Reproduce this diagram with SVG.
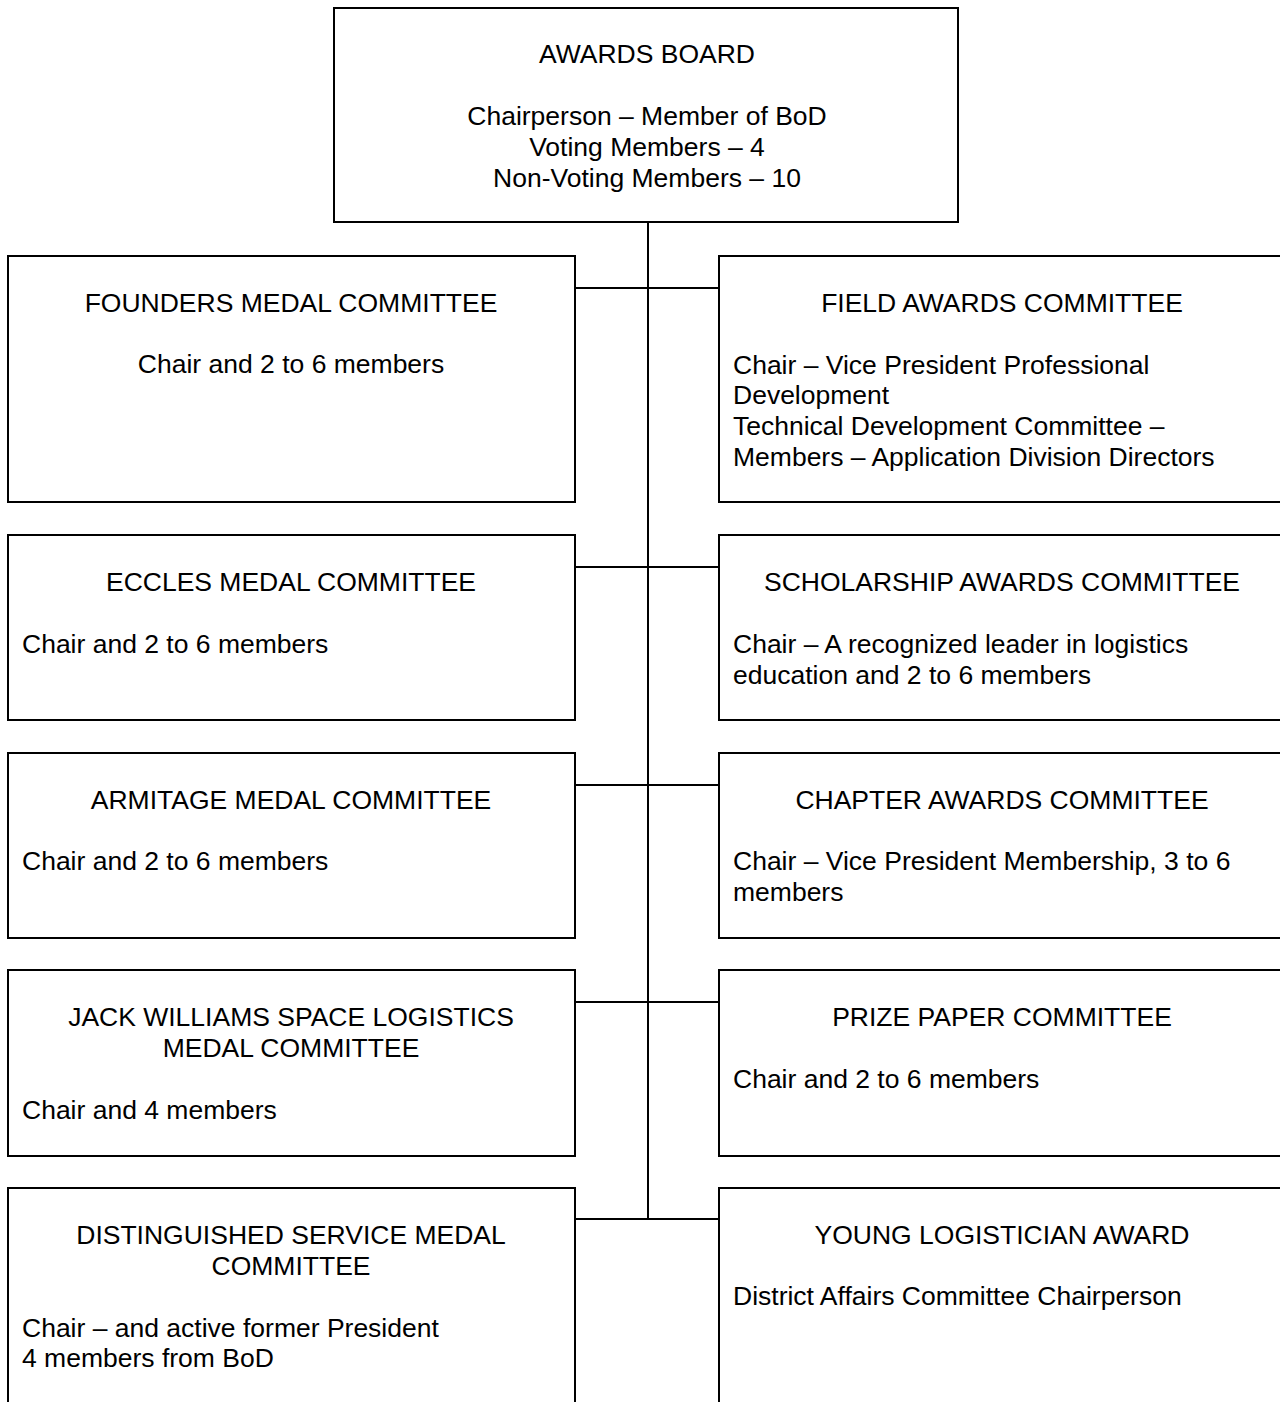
<svg xmlns="http://www.w3.org/2000/svg" width="1280" height="1402" viewBox="0 0 1280 1402">
<style>
.box{fill:#fff;stroke:#000;stroke-width:2}
.ln{stroke:#000;stroke-width:2;fill:none}
text{font-family:"Liberation Sans",Arial,sans-serif;font-size:26.5px;fill:#000}
.c{text-anchor:middle}
</style>
<rect width="1280" height="1402" fill="#fff"/>
<g id="connectors">
<line class="ln" x1="648" y1="222" x2="648" y2="1220"/>
<line class="ln" x1="575" y1="288" x2="719" y2="288"/>
<line class="ln" x1="575" y1="567" x2="719" y2="567"/>
<line class="ln" x1="575" y1="785" x2="719" y2="785"/>
<line class="ln" x1="575" y1="1002" x2="719" y2="1002"/>
<line class="ln" x1="575" y1="1219" x2="719" y2="1219"/>
</g>
<g id="awards-board">
<rect class="box" x="334" y="8" width="624" height="214"/>
<text class="c" x="647" y="63">AWARDS BOARD</text>
<text class="c" x="647" y="125">Chairperson – Member of BoD</text>
<text class="c" x="647" y="156">Voting Members – 4</text>
<text class="c" x="647" y="187">Non-Voting Members – 10</text>
</g>
<g id="founders">
<rect class="box" x="8" y="256" width="567" height="246"/>
<text class="c" x="291" y="312">FOUNDERS MEDAL COMMITTEE</text>
<text class="c" x="291" y="373">Chair and 2 to 6 members</text>
</g>
<g id="field">
<rect class="box" x="719" y="256" width="580" height="246"/>
<text class="c" x="1002" y="312">FIELD AWARDS COMMITTEE</text>
<text x="733" y="374">Chair – Vice President Professional</text>
<text x="733" y="404">Development</text>
<text x="733" y="435">Technical Development Committee –</text>
<text x="733" y="466">Members – Application Division Directors</text>
</g>
<g id="eccles">
<rect class="box" x="8" y="535" width="567" height="185"/>
<text class="c" x="291" y="591">ECCLES MEDAL COMMITTEE</text>
<text x="22" y="653">Chair and 2 to 6 members</text>
</g>
<g id="scholarship">
<rect class="box" x="719" y="535" width="580" height="185"/>
<text class="c" x="1002" y="591">SCHOLARSHIP AWARDS COMMITTEE</text>
<text x="733" y="653">Chair – A recognized leader in logistics</text>
<text x="733" y="684">education and 2 to 6 members</text>
</g>
<g id="armitage">
<rect class="box" x="8" y="753" width="567" height="185"/>
<text class="c" x="291" y="809">ARMITAGE MEDAL COMMITTEE</text>
<text x="22" y="870">Chair and 2 to 6 members</text>
</g>
<g id="chapter">
<rect class="box" x="719" y="753" width="580" height="185"/>
<text class="c" x="1002" y="809">CHAPTER AWARDS COMMITTEE</text>
<text x="733" y="870">Chair – Vice President Membership, 3 to 6</text>
<text x="733" y="901">members</text>
</g>
<g id="jack-williams">
<rect class="box" x="8" y="970" width="567" height="186"/>
<text class="c" x="291" y="1026">JACK WILLIAMS SPACE LOGISTICS</text>
<text class="c" x="291" y="1057">MEDAL COMMITTEE</text>
<text x="22" y="1119">Chair and 4 members</text>
</g>
<g id="prize-paper">
<rect class="box" x="719" y="970" width="580" height="186"/>
<text class="c" x="1002" y="1026">PRIZE PAPER COMMITTEE</text>
<text x="733" y="1088">Chair and 2 to 6 members</text>
</g>
<g id="distinguished">
<rect class="box" x="8" y="1188" width="567" height="230"/>
<text class="c" x="291" y="1244">DISTINGUISHED SERVICE MEDAL</text>
<text class="c" x="291" y="1275">COMMITTEE</text>
<text x="22" y="1337">Chair – and active former President</text>
<text x="22" y="1367">4 members from BoD</text>
</g>
<g id="young-logistician">
<rect class="box" x="719" y="1188" width="580" height="230"/>
<text class="c" x="1002" y="1244">YOUNG LOGISTICIAN AWARD</text>
<text x="733" y="1305">District Affairs Committee Chairperson</text>
</g>
</svg>
